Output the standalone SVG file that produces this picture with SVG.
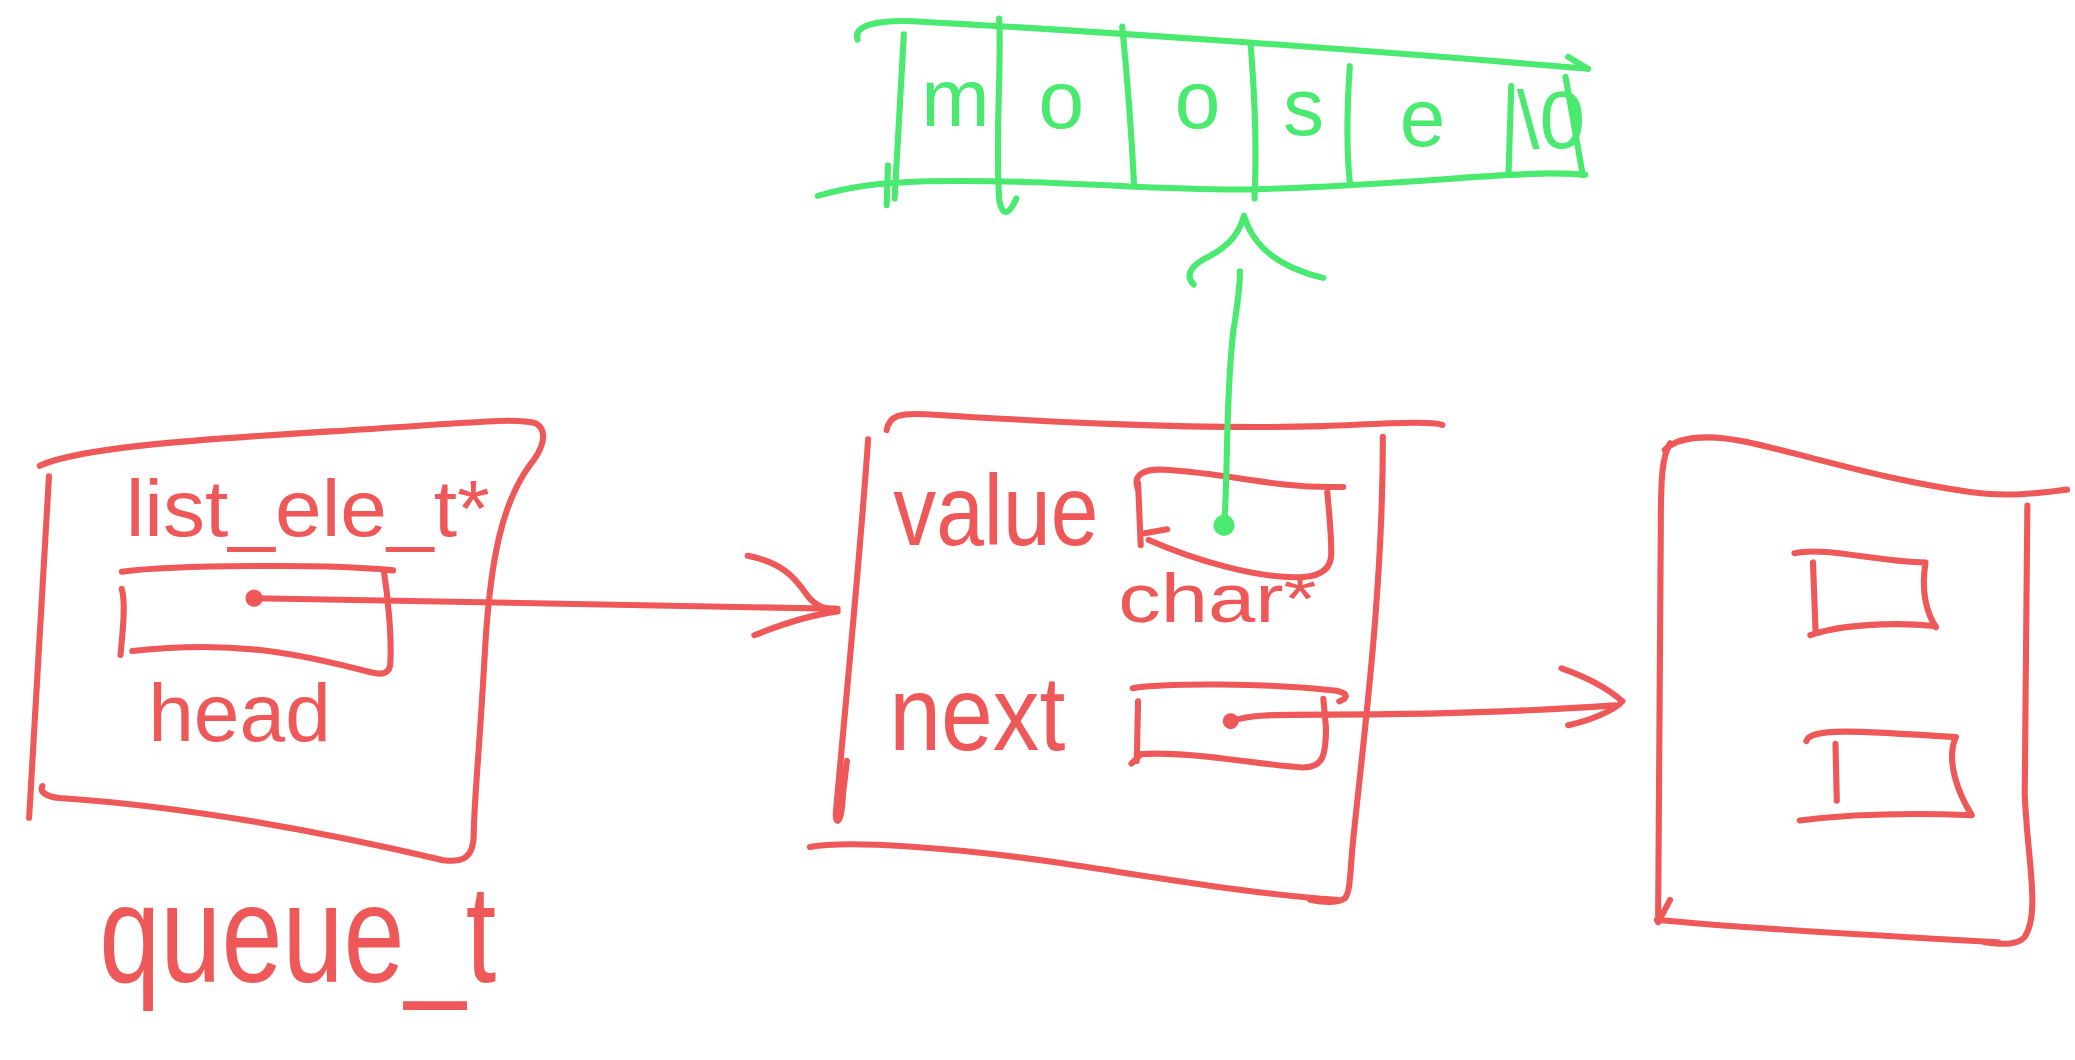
<svg xmlns="http://www.w3.org/2000/svg" width="2075" height="1060" viewBox="0 0 2075 1060">
<style>
.r{fill:none;stroke:#EF5858;stroke-width:4.6;stroke-linecap:round;stroke-linejoin:round}
.g{fill:none;stroke:#4AE970;stroke-width:4.6;stroke-linecap:round;stroke-linejoin:round}
.rt{fill:#EF5858;font-family:"Liberation Sans","DejaVu Sans",sans-serif}
.gt{fill:#4AE970;font-family:"Liberation Sans","DejaVu Sans",sans-serif;text-anchor:middle}
</style>
<rect width="2075" height="1060" fill="#ffffff"/>
<g transform="scale(1.32334)">
  <g id="queue">
    <path class="r" d="M 30 352 C 60 338, 150 332, 250 326 S 390 315, 405 320 C 415 326, 410 340, 400 352 C 380 380, 370 420, 366 500 C 362 570, 358 610, 358 630 C 358 648, 350 652, 335 650 C 250 630, 150 610, 45 603 C 34 602, 30 598, 32 594"/>
    <path class="r" d="M 37 360 L 22 618"/>
    <path class="r" d="M 92 432 C 130 427, 250 426, 297 431"/>
    <path class="r" d="M 290 431 C 293 450, 296 480, 295 500 C 295 510, 288 510, 280 508 C 230 495, 180 483, 100 492"/>
    <path class="r" d="M 92 445 C 95 455, 93 475, 91 495"/>
    <text class="rt" x="95" y="405" font-size="60" textLength="275" lengthAdjust="spacingAndGlyphs">list_ele_t*</text>
    <text class="rt" x="112" y="560" font-size="62" textLength="138" lengthAdjust="spacingAndGlyphs">head</text>
    <text class="rt" x="75" y="742" font-size="105" textLength="300" lengthAdjust="spacingAndGlyphs">queue_t</text>
  </g>
  <g id="node1">
    <path class="r" d="M 670 325 C 672 314, 680 312, 700 313 C 780 318, 900 325, 1000 322 C 1050 320, 1080 318, 1090 321"/>
    <path class="r" d="M 656 332 C 650 420, 640 520, 632 610 C 630 625, 636 625, 637 600 L 640 575"/>
    <path class="r" d="M 1045 330 C 1045 450, 1030 560, 1022 640 C 1020 665, 1020 675, 1016 679 C 1010 683, 1000 682, 990 680"/>
    <path class="r" d="M 612 640 C 640 635, 720 640, 800 652 C 880 664, 950 676, 1010 680"/>
    <path class="r" d="M 860 370 C 856 360, 862 354, 880 355 C 930 358, 960 368, 1005 368 L 1015 368"/>
    <path class="r" d="M 860 365 L 862 412 M 865 403 L 882 400"/>
    <path class="r" d="M 868 408 C 900 422, 950 438, 985 436 C 1000 435, 1006 428, 1006 418 C 1006 400, 1004 385, 1003 372"/>
    <path class="r" d="M 856 520 C 880 516, 960 516, 1010 522 C 1020 524, 1018 528, 1012 530"/>
    <path class="r" d="M 860 530 L 859 575 M 855 577 L 862 570"/>
    <path class="r" d="M 860 570 C 900 567, 950 578, 985 580 C 1000 580, 1002 570, 1002 550 L 1000 528"/>
    <text class="rt" x="675" y="412" font-size="75" textLength="155" lengthAdjust="spacingAndGlyphs">value</text>
    <text class="rt" x="845" y="470" font-size="52" textLength="150" lengthAdjust="spacingAndGlyphs">char*</text>
    <text class="rt" x="672" y="567" font-size="80" textLength="133" lengthAdjust="spacingAndGlyphs">next</text>
  </g>
  <g id="node2">
    <path class="r" d="M 1262 335 C 1256 345, 1255 360, 1255 400 L 1253 692 M 1262 680 L 1253 697"/>
    <path class="r" d="M 1258 340 C 1268 330, 1290 328, 1320 334 C 1370 345, 1420 362, 1490 372 C 1520 376, 1545 372, 1562 370"/>
    <path class="r" d="M 1532 382 L 1530 600 C 1532 650, 1542 690, 1530 708 C 1525 714, 1515 714, 1500 712"/>
    <path class="r" d="M 1252 695 C 1300 700, 1400 706, 1510 712"/>
    <path class="r" d="M 1356 418 C 1380 413, 1420 425, 1455 425 M 1370 425 L 1372 478 M 1368 480 C 1390 472, 1430 470, 1462 473 M 1455 425 C 1452 445, 1455 462, 1463 474"/>
    <path class="r" d="M 1365 560 C 1368 550, 1400 552, 1478 557 M 1387 562 L 1388 605 M 1360 620 C 1400 615, 1440 614, 1490 616 M 1478 557 C 1470 575, 1480 600, 1490 616"/>
  </g>
  <g id="string">
    <path class="g" d="M 648 30 C 645 20, 660 15, 690 16 C 800 22, 1000 35, 1200 52 M 1185 43 L 1200 52"/>
    <path class="g" d="M 618 148 C 640 142, 660 138, 700 137 C 800 135, 880 145, 950 143 C 1050 140, 1120 132, 1170 131 C 1185 131, 1195 132, 1198 132"/>
    <path class="g" d="M 683 26 L 676 150 M 671 125 L 670 155"/>
    <path class="g" d="M 755 14 C 757 50, 752 100, 755 150 C 757 165, 763 162, 768 150"/>
    <path class="g" d="M 848 20 C 852 60, 855 100, 857 140"/>
    <path class="g" d="M 945 33 C 948 70, 950 110, 948 150"/>
    <path class="g" d="M 1020 50 C 1018 80, 1017 110, 1020 138"/>
    <path class="g" d="M 1142 65 L 1140 130"/>
    <path class="g" d="M 1183 58 L 1196 132"/>
    <text class="gt" x="722" y="95" font-size="62">m</text>
    <text class="gt" x="802" y="97" font-size="62">o</text>
    <text class="gt" x="905" y="97" font-size="62">o</text>
    <text class="gt" x="985" y="102" font-size="62">s</text>
    <text class="gt" x="1075" y="110" font-size="62">e</text>
    <text class="gt" x="1172" y="112" font-size="62">\0</text>
  </g>
  <g id="connectors">
    <circle cx="192" cy="452" r="6.5" fill="#EF5858"/>
    <path class="r" stroke-width="7" d="M 190 452 L 632 460"/>
    <path class="r" stroke-width="6" d="M 565 420 C 590 425, 600 435, 610 450 C 618 460, 625 460, 633 460 M 570 480 C 590 472, 610 465, 633 462"/>
    <circle cx="930" cy="545" r="6" fill="#EF5858"/>
    <path class="r" stroke-width="5" d="M 930 545 C 945 540, 960 540, 1000 540 C 1080 540, 1150 538, 1220 533"/>
    <path class="r" stroke-width="5" d="M 1180 505 C 1200 512, 1215 520, 1226 530 C 1220 537, 1200 545, 1185 548"/>
    <circle cx="925" cy="397" r="8" fill="#4AE970"/>
    <path class="g" stroke-width="5.5" d="M 925 397 C 928 360, 926 300, 932 250 C 936 225, 937 215, 937 205"/>
    <path class="g" d="M 902 215 C 895 208, 900 200, 915 193 C 930 185, 937 175, 940 163 C 945 180, 958 200, 1000 210"/>
  </g>
</g>
</svg>
